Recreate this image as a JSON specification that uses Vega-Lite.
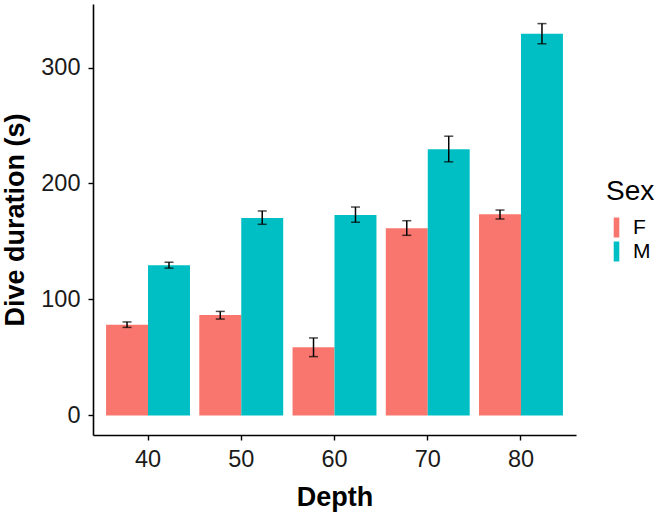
{
  "$schema": "https://vega.github.io/schema/vega-lite/v6.json",
  "description": "Dive duration by depth and sex, mean with error bars",
  "width": 483,
  "height": 431,
  "autosize": "none",
  "padding": {"left": 93, "top": 4, "right": 83, "bottom": 79},
  "background": "white",
  "config": {
    "view": {"stroke": null},
    "font": "Liberation Sans",
    "axis": {
      "domainColor": "black",
      "domainWidth": 1.6,
      "tickColor": "black",
      "tickWidth": 1.4,
      "tickSize": 5,
      "grid": false,
      "labelFont": "Liberation Sans",
      "labelFontSize": 23.5,
      "labelColor": "#1a1a1a",
      "titleFont": "Liberation Sans",
      "titleFontSize": 27,
      "titleFontWeight": "bold",
      "titleColor": "black"
    }
  },
  "data": {
    "values": [
      {"depth": 40, "sex": "F", "mean": 78.2, "lo": 75.9, "hi": 80.6},
      {"depth": 40, "sex": "M", "mean": 129.6, "lo": 127.0, "hi": 132.1},
      {"depth": 50, "sex": "F", "mean": 86.6, "lo": 83.1, "hi": 89.7},
      {"depth": 50, "sex": "M", "mean": 170.2, "lo": 164.8, "hi": 176.3},
      {"depth": 60, "sex": "F", "mean": 58.7, "lo": 50.7, "hi": 66.8},
      {"depth": 60, "sex": "M", "mean": 172.8, "lo": 166.6, "hi": 179.7},
      {"depth": 70, "sex": "F", "mean": 161.4, "lo": 155.3, "hi": 167.9},
      {"depth": 70, "sex": "M", "mean": 229.6, "lo": 218.7, "hi": 240.8},
      {"depth": 80, "sex": "F", "mean": 173.4, "lo": 169.4, "hi": 177.1},
      {"depth": 80, "sex": "M", "mean": 329.1, "lo": 320.5, "hi": 337.9}
    ]
  },
  "encoding": {
    "x": {
      "field": "depth",
      "type": "ordinal",
      "title": "Depth",
      "scale": {"paddingInner": 0.1, "paddingOuter": 0.14},
      "axis": {"labelAngle": 0, "labelPadding": 7, "titlePadding": 14}
    },
    "xOffset": {"field": "sex", "type": "nominal"}
  },
  "layer": [
    {
      "mark": {"type": "bar"},
      "encoding": {
        "y": {
          "field": "mean",
          "type": "quantitative",
          "title": "Dive duration (s)",
          "scale": {"domain": [-16.9, 354.8], "nice": false, "zero": false},
          "axis": {"values": [0, 100, 200, 300], "labelPadding": 8, "titlePadding": 11}
        },
        "color": {
          "field": "sex",
          "type": "nominal",
          "title": "Sex",
          "scale": {"domain": ["F", "M"], "range": ["#F8766D", "#00BFC4"]},
          "legend": {
            "orient": "none",
            "legendX": 513,
            "legendY": 174,
            "titleFontSize": 28,
            "titleFontWeight": "normal",
            "titleColor": "black",
            "titlePadding": 11,
            "labelFontSize": 21,
            "labelColor": "black",
            "labelOffset": 6,
            "symbolType": "M-0.28,-1H0.28V1H-0.28Z",
            "symbolSize": 400,
            "symbolStrokeWidth": 0,
            "symbolOpacity": 1,
            "rowPadding": 2
          }
        }
      }
    },
    {
      "mark": {"type": "rule", "color": "black", "strokeWidth": 1.5},
      "encoding": {
        "y": {"field": "lo", "type": "quantitative"},
        "y2": {"field": "hi"}
      }
    },
    {
      "mark": {"type": "tick", "color": "black", "size": 9, "thickness": 1.5},
      "encoding": {"y": {"field": "lo", "type": "quantitative"}}
    },
    {
      "mark": {"type": "tick", "color": "black", "size": 9, "thickness": 1.5},
      "encoding": {"y": {"field": "hi", "type": "quantitative"}}
    }
  ]
}
